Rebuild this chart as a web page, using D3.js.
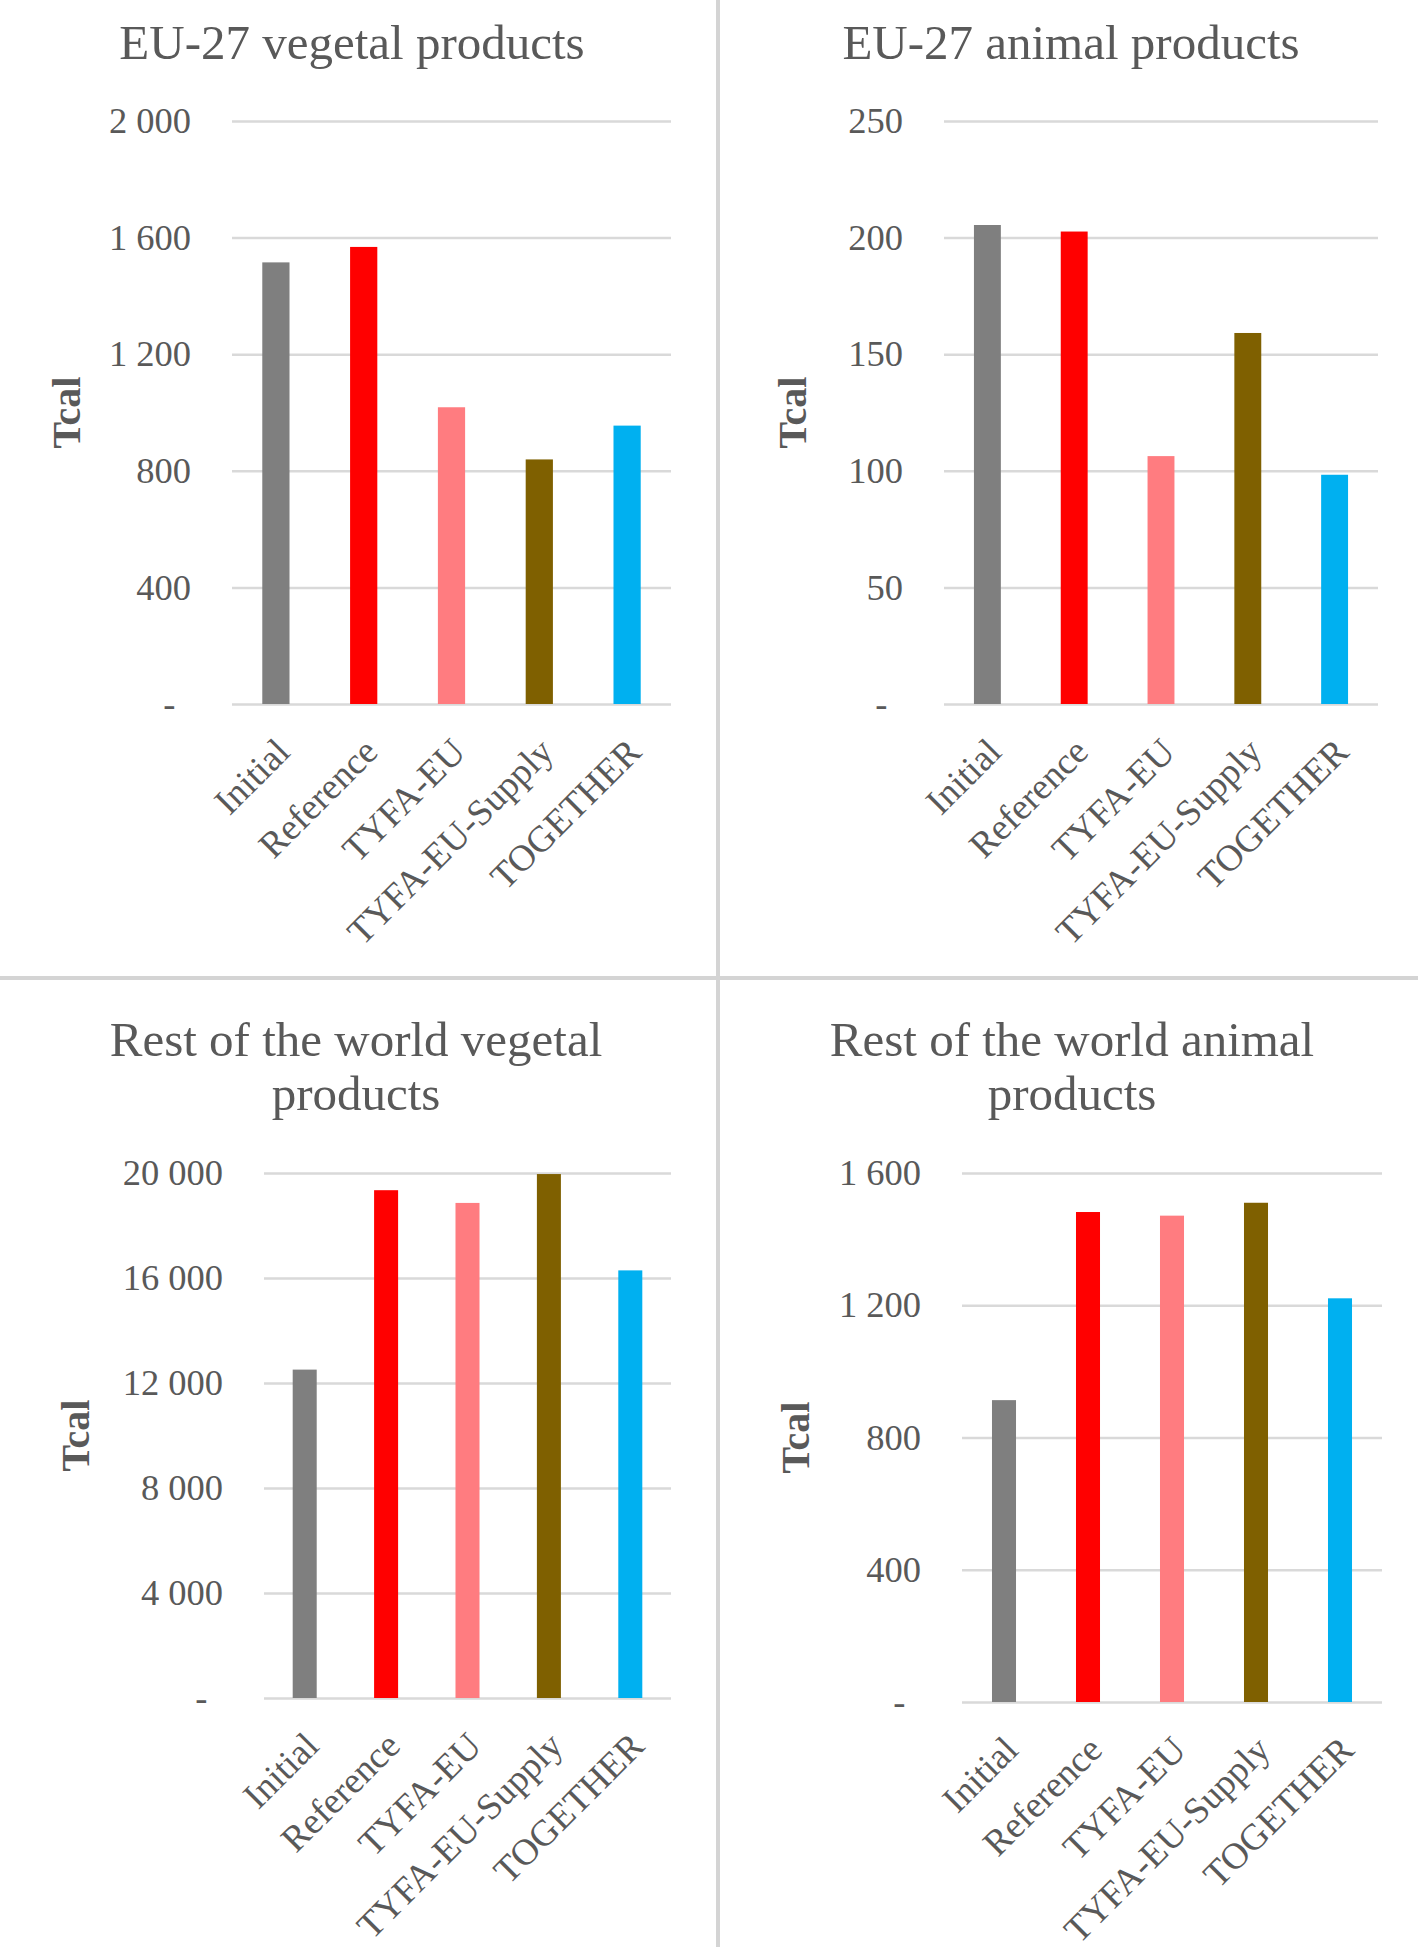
<!DOCTYPE html>
<html>

<head>
    <meta charset="utf-8">
    <style>
        body {
            margin: 0;
            background: white;
        }

        svg {
            display: block;
            font-family: "Liberation Serif", "Times New Roman", serif;
        }

        .grid line {
            stroke: #d9d9d9;
            stroke-width: 2.5;
        }

        .grid text {
            fill: #595959;
            font-size: 36.5px;
        }

        .xlabel {
            fill: #595959;
            font-size: 37px;
        }

        .title {
            fill: #595959;
            font-size: 49px;
        }

        .ytitle {
            fill: #595959;
            font-size: 40px;
            font-weight: bold;
        }
    </style>
</head>

<body>
    <svg width="1418" height="1954"></svg>
</body>

<script src="https://d3js.org/d3.v7.min.js"></script>

<script>
    // values (Tcal)
    let categories = ["Initial", "Reference", "TYFA-EU", "TYFA-EU-Supply", "TOGETHER"];
    let barColors = ["#7f7f7f", "#ff0000", "#ff7c80", "#7f6000", "#00b0f0"];

    let euVegetal = [1515, 1568, 1018, 839, 955];
    let euAnimal = [205.4, 202.6, 106.3, 159.1, 98.3];
    let rowVegetal = [12510, 19345, 18860, 19960, 16290];
    let rowAnimal = [913, 1482, 1471, 1510, 1221];

    let euVegetalTicks = [0, 400, 800, 1200, 1600, 2000];
    let euAnimalTicks = [0, 50, 100, 150, 200, 250];
    let rowVegetalTicks = [0, 4000, 8000, 12000, 16000, 20000];
    let rowAnimalTicks = [0, 400, 800, 1200, 1600];

    let svg = d3.select("svg")

    // panel frame lines
    svg.append("line")
        .attr("x1", 718).attr("x2", 718)
        .attr("y1", 0).attr("y2", 1947)
        .attr("stroke", "#d4d4d4")
        .attr("stroke-width", 4)
    svg.append("line")
        .attr("x1", 0).attr("x2", 1418)
        .attr("y1", 978).attr("y2", 978)
        .attr("stroke", "#d4d4d4")
        .attr("stroke-width", 4)

    let numFormat = d3.formatLocale({ decimal: ".", thousands: " ", grouping: [3], currency: ["", ""] }).format(",")

    let panels = [
        { title: ["EU-27 vegetal products"], values: euVegetal, ticks: euVegetalTicks,
          left: 232, right: 671, top: 121, bottom: 704, pad: 0.69, cx: 352, titleY: 59, yTitleX: 80 },
        { title: ["EU-27 animal products"], values: euAnimal, ticks: euAnimalTicks,
          left: 944, right: 1378, top: 121, bottom: 704, pad: 0.69, cx: 1071, titleY: 59, yTitleX: 806 },
        { title: ["Rest of the world vegetal", "products"], values: rowVegetal, ticks: rowVegetalTicks,
          left: 264, right: 671, top: 1173, bottom: 1698, pad: 0.705, cx: 356, titleY: 1056, yTitleX: 89 },
        { title: ["Rest of the world animal", "products"], values: rowAnimal, ticks: rowAnimalTicks,
          left: 962, right: 1382, top: 1173, bottom: 1702, pad: 0.714, cx: 1072, titleY: 1056, yTitleX: 809 }
    ]

    panels.forEach(p => {
        let g = svg.append("g")

        let x = d3.scaleBand()
            .domain(categories)
            .range([p.left, p.right])
            .paddingInner(p.pad)
            .paddingOuter(p.pad / 2)

        let y = d3.scaleLinear()
            .domain([0, d3.max(p.ticks)])
            .range([p.bottom, p.top])

        // gridlines + tick labels
        let axis = g.append("g")
            .attr("class", "grid")
            .attr("transform", `translate(${p.left},0)`)
            .call(d3.axisLeft(y)
                .tickValues(p.ticks)
                .tickSize(-(p.right - p.left))
                .tickPadding(41)
                .tickFormat(d => d === 0 ? "-" : numFormat(d)))
            .attr("font-size", null)
            .attr("font-family", null)
        axis.select(".domain").remove()
        axis.selectAll(".tick")
            .filter(d => d === 0)
            .select("text")
            .attr("dx", "-0.43em")

        // bars
        g.append("g")
            .selectAll("rect")
            .data(p.values)
            .join("rect")
            .attr("x", (d, i) => x(categories[i]))
            .attr("width", x.bandwidth())
            .attr("y", d => y(d))
            .attr("height", d => y(0) - y(d))
            .attr("fill", (d, i) => barColors[i])

        // rotated category labels
        g.append("g")
            .selectAll("text")
            .data(categories)
            .join("text")
            .attr("class", "xlabel")
            .attr("text-anchor", "end")
            .attr("transform", d => `translate(${x(d) + x.bandwidth() / 2 + 16},${p.bottom + 50}) rotate(-45)`)
            .text(d => d)

        // chart title
        g.append("text")
            .attr("class", "title")
            .attr("text-anchor", "middle")
            .selectAll("tspan")
            .data(p.title)
            .join("tspan")
            .attr("x", p.cx)
            .attr("y", (d, i) => p.titleY + i * 54)
            .text(d => d)

        // y axis title
        g.append("text")
            .attr("class", "ytitle")
            .attr("text-anchor", "middle")
            .attr("transform", `translate(${p.yTitleX},${(p.top + p.bottom) / 2}) rotate(-90)`)
            .text("Tcal")
    })
</script>

</html>
